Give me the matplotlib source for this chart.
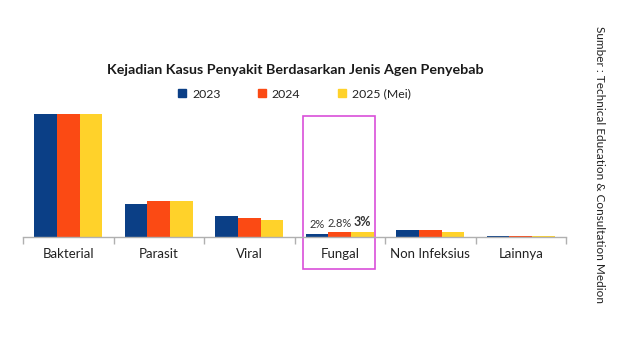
import matplotlib
matplotlib.use("Agg")
import matplotlib.pyplot as plt
from matplotlib.patches import Rectangle
from matplotlib.lines import Line2D
import numpy as np

plt.rcParams['font.family'] = ['Lato', 'DejaVu Sans']

categories = ["Bakterial", "Parasit", "Viral", "Fungal", "Non Infeksius", "Lainnya"]
series_names = ["2023", "2024", "2025 (Mei)"]
v2023 = [70, 18.8, 12.3, 2.0, 4.0, 0.6]
v2024 = [70, 20.8, 11.0, 2.8, 4.3, 0.6]
v2025 = [70, 20.5, 10.0, 3.0, 3.0, 0.6]
fungal_labels = ["2%", "2.8%", "3%"]
title = "Kejadian Kasus Penyakit Berdasarkan Jenis Agen Penyebab"
source = "Sumber : Technical Education & Consultation Medion"

colors = ["#0b3f86", "#fb4a14", "#ffd22a"]

fig = plt.figure(figsize=(6.2, 3.49), dpi=100)
W, H = 620, 349
left, right, base, top = 23, 566, 237.3, 114.3
ax = fig.add_axes([left / W, 1 - base / H, (right - left) / W, (base - top) / H])

x = np.arange(len(categories))
bw = 0.25
for i, (vals, c) in enumerate(zip([v2023, v2024, v2025], colors)):
    ax.bar(x + (i - 1) * bw, vals, width=bw, color=c, linewidth=0)

ax.set_xlim(-0.5, len(categories) - 0.5)
ax.set_ylim(0, 70)
for s in ["top", "right", "left"]:
    ax.spines[s].set_visible(False)
ax.spines["bottom"].set_color("#b0b0b0")
ax.spines["bottom"].set_linewidth(1.0)
ax.set_yticks([])
ax.set_xticks(np.arange(len(categories) + 1) - 0.5, minor=False)
ax.set_xticklabels([])
ax.tick_params(axis="x", which="major", length=5, color="#b0b0b0", width=1)
ax.set_xticks(x, minor=True)
ax.set_xticklabels(categories, minor=True, fontsize=9.5, color="#222222")
ax.tick_params(axis="x", which="minor", length=0, pad=8)

# Fungal labels
fi = categories.index("Fungal")
fvals = [v2023[fi], v2024[fi], v2025[fi]]
for i, (v, lab) in enumerate(zip(fvals, fungal_labels)):
    bold = i == 2
    ax.text(fi + (i - 1) * bw, v + 2.2, lab, ha="center", va="bottom",
            fontsize=9 if bold else 8, fontweight="bold" if bold else "normal",
            color="#333333")

# Highlight box
ax.add_patch(Rectangle((fi - 0.405, -18.0), 0.79, 87.0, fill=False,
                       edgecolor="#d94fd9", linewidth=1.2, clip_on=False))

fig.text(295 / W, 1 - 70 / H, title, ha="center", va="center",
         fontsize=10.3, fontweight="bold", color="#1a1a1a")

handles = [Line2D([], [], marker="s", linestyle="none", markersize=6,
                  markerfacecolor=c, markeredgecolor=c) for c in colors]
fig.legend(handles, series_names, loc="center", bbox_to_anchor=(294 / W, 1 - 94 / H),
           ncol=3, frameon=False, fontsize=8.8, handlelength=0.8, handletextpad=0.4,
           columnspacing=3.0, labelcolor="#222222")

fig.text(600 / W, 1 - 164 / H, source, rotation=270, ha="center", va="center",
         fontsize=8.5, color="#222222")

fig.savefig("out.png", dpi=100, facecolor="white")
